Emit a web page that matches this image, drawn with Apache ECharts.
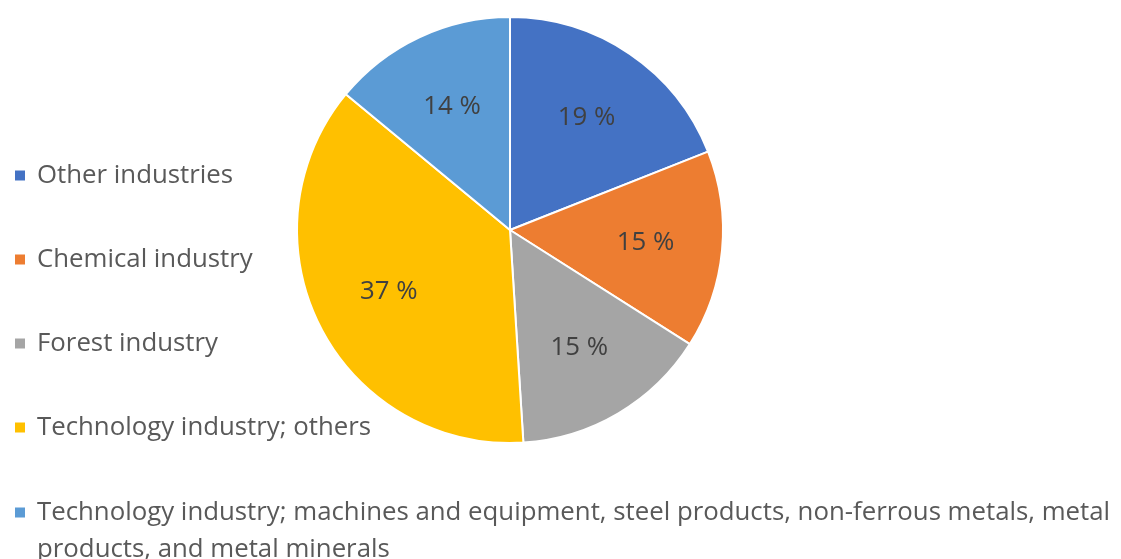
<!DOCTYPE html>
<html>
<head>
<meta charset="utf-8">
<script src="https://cdn.jsdelivr.net/npm/echarts@6/dist/echarts.min.js"></script>
<style>
  html, body { margin: 0; padding: 0; background: #fff; }
  #chart { width: 1121px; height: 559px; }
</style>
</head>
<body>
<div id="chart"></div>
<script>
// Shares by industry, in percent, clockwise from 12 o'clock
const categories = [
  'Other industries',
  'Chemical industry',
  'Forest industry',
  'Technology industry; others',
  'Technology industry; machines and equipment, steel products, non-ferrous metals, metal products, and metal minerals'
];
const shares = [19, 15, 15, 37, 14];
const colors = ['#4472C4', '#ED7D31', '#A5A5A5', '#FFC000', '#5B9BD5'];

const FONT = '"Open Sans", "Liberation Sans", sans-serif';
const data = categories.map((name, i) => ({ name, value: shares[i] }));

const chart = echarts.init(document.getElementById('chart'), null, { renderer: 'canvas' });
const center = [510, 230];
const R = 213;

chart.setOption({
  animation: false,
  color: colors,
  legend: [
    {
      orient: 'vertical',
      left: 13,
      top: 157,
      padding: 0,
      itemWidth: 12,
      itemHeight: 12,
      itemGap: 47,
      icon: 'rect',
      selectedMode: false,
      data: categories.slice(0, 4),
      textStyle: {
        fontFamily: FONT, fontSize: 25.8, color: '#595959',
        lineHeight: 37, padding: [0, 0, 0, 6]
      }
    },
    {
      orient: 'vertical',
      left: 13,
      top: 457,
      padding: 0,
      itemWidth: 12,
      itemHeight: 12,
      icon: 'rect',
      selectedMode: false,
      data: categories.slice(4),
      // blank lead line keeps the first text line level with the swatch
      formatter: name => '\n' + name.replace('metal products', 'metal\nproducts'),
      textStyle: {
        fontFamily: FONT, fontSize: 25.8, color: '#595959',
        lineHeight: 37, padding: [0, 0, 0, 6]
      }
    }
  ],
  series: [
    {
      type: 'pie',
      center: center,
      radius: [0, R],
      startAngle: 90,
      clockwise: true,
      data: data,
      label: { show: false },
      labelLine: { show: false },
      itemStyle: { borderColor: '#ffffff', borderWidth: 2 },
      emphasis: { disabled: true }
    },
    {
      // label-only ring, places the percent labels part-way out along each slice
      type: 'pie',
      center: center,
      radius: [R * 0.25, R],
      startAngle: 90,
      clockwise: true,
      silent: true,
      legendHoverLink: false,
      data: data,
      itemStyle: { color: 'transparent', borderWidth: 0 },
      label: {
        show: true,
        position: 'inside',
        formatter: p => p.value + ' %',
        fontFamily: FONT,
        fontSize: 25.8,
        color: '#404040'
      },
      labelLine: { show: false },
      emphasis: { disabled: true }
    }
  ]
});
</script>
</body>
</html>
